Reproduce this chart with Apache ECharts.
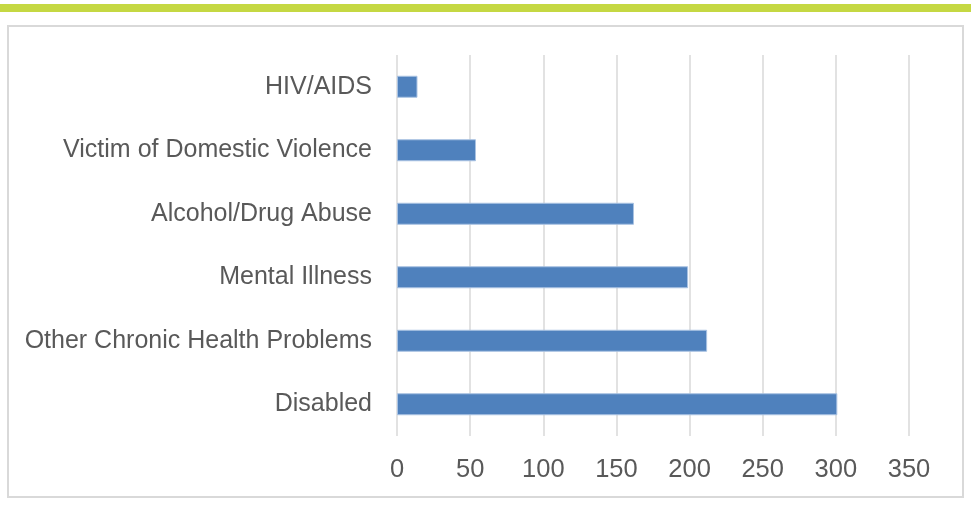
<!DOCTYPE html>
<html>
<head>
<meta charset="utf-8">
<script src="https://cdn.jsdelivr.net/npm/echarts@6/dist/echarts.min.js"></script>
<style>
  html, body { margin: 0; padding: 0; background: #ffffff; }
  #chart { width: 971px; height: 518px; }
</style>
</head>
<body>
<div id="chart"></div>
<script>
// Special-needs categories, listed top to bottom
const categories = [
  'HIV/AIDS',
  'Victim of Domestic Violence',
  'Alcohol/Drug Abuse',
  'Mental Illness',
  'Other Chronic Health Problems',
  'Disabled'
];
const counts = [14, 54, 162, 199, 212, 301];
const axisMax = 350;
const axisStep = 50;

const textColor = '#595959';
const gridColor = '#d9d9d9';
const fontFamily = '"Liberation Sans", Arial, sans-serif';

const chart = echarts.init(document.getElementById('chart'), null, { renderer: 'canvas' });

chart.setOption({
  animation: false,
  backgroundColor: '#ffffff',
  graphic: [
    {
      type: 'rect',
      shape: { x: 0, y: 4, width: 971, height: 8 },
      style: { fill: '#c5d843' },
      silent: true
    },
    {
      type: 'rect',
      shape: { x: 8, y: 26, width: 955, height: 471 },
      style: { fill: 'none', stroke: gridColor, lineWidth: 2 },
      silent: true
    }
  ],
  grid: {
    left: 397,
    right: 62,
    top: 55,
    bottom: 82,
    containLabel: false
  },
  xAxis: {
    type: 'value',
    min: 0,
    max: axisMax,
    interval: axisStep,
    axisLine: { show: false },
    axisTick: { show: false },
    splitLine: { show: true, lineStyle: { color: gridColor, width: 1.5 } },
    axisLabel: {
      color: textColor,
      fontSize: 25.5,
      fontFamily: fontFamily,
      margin: 21
    }
  },
  yAxis: {
    type: 'category',
    data: categories,
    inverse: true,
    axisLine: { show: false },
    axisTick: { show: false },
    axisLabel: {
      color: textColor,
      fontSize: 25,
      fontFamily: fontFamily,
      margin: 25,
      padding: [5, 0, 0, 0]
    }
  },
  series: [
    {
      type: 'bar',
      data: counts,
      barWidth: 22,
      itemStyle: {
        color: '#4f81bd',
        borderColor: '#a9c2e2',
        borderWidth: 1
      }
    }
  ]
});
</script>
</body>
</html>
